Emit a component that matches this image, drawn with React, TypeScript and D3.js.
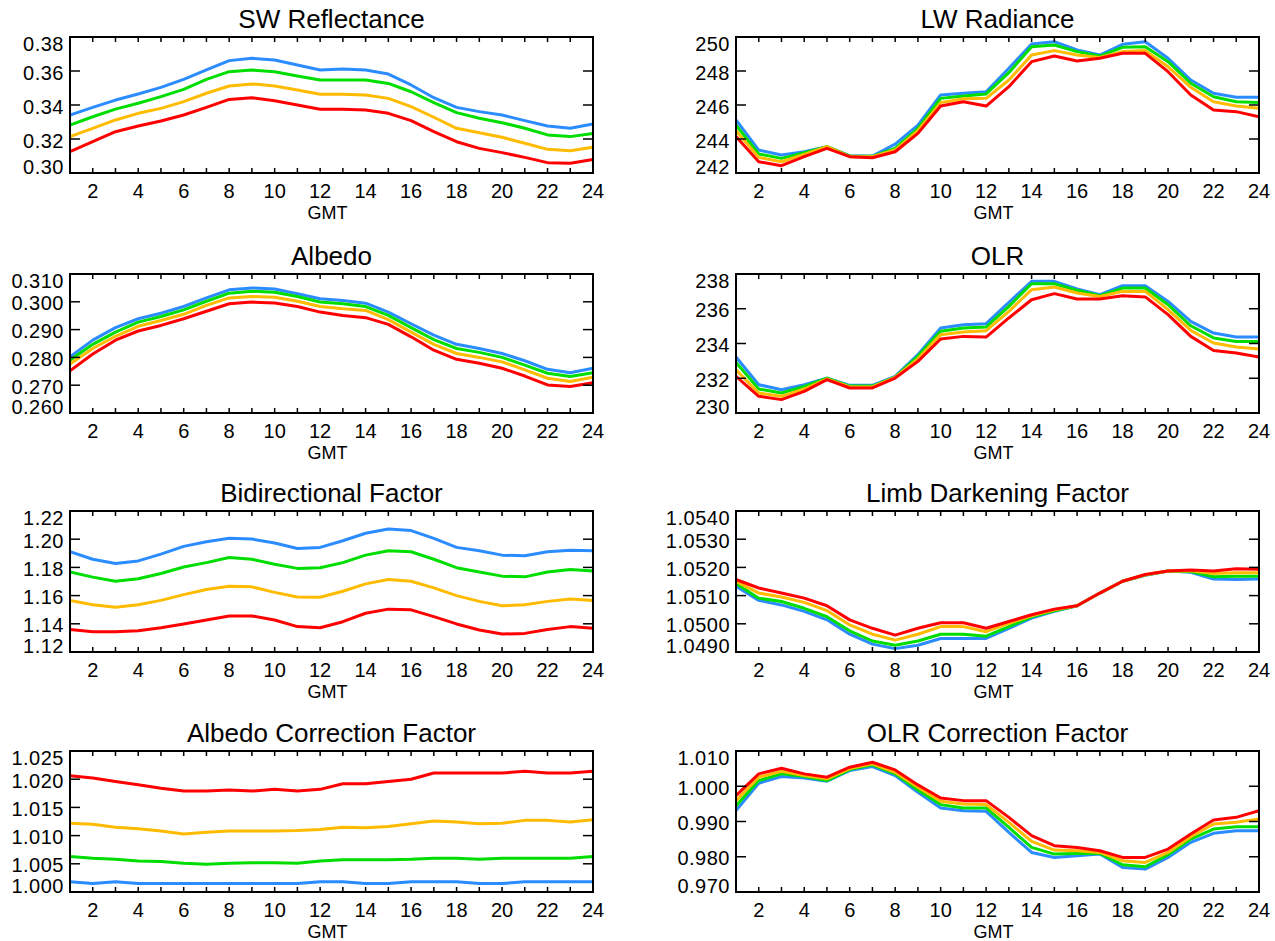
import React from 'react';
import * as d3 from 'd3';

// Hour of day (GMT)
const hours = [1, 2, 3, 4, 5, 6, 7, 8, 9, 10, 11, 12, 13, 14, 15, 16, 17, 18, 19, 20, 21, 22, 23, 24];
const xTickLabels = [2, 4, 6, 8, 10, 12, 14, 16, 18, 20, 22, 24];

// Series colours, in drawing order (red on top)
const seriesColors = ['#2b8cff', '#00dd00', '#ffbb00', '#ff0000'];

// SW Reflectance
const swBlue = [0.3341, 0.3386, 0.3429, 0.3465, 0.3504, 0.3551, 0.3606, 0.3661, 0.3675, 0.3665, 0.3635, 0.3606, 0.3612, 0.3606, 0.3582, 0.3518, 0.3443, 0.3386, 0.3361, 0.3341, 0.3308, 0.3276, 0.3263, 0.3288];
const swGreen = [0.3282, 0.3331, 0.3376, 0.341, 0.3449, 0.3492, 0.3551, 0.3596, 0.3606, 0.3596, 0.3571, 0.3547, 0.3547, 0.3547, 0.3527, 0.3478, 0.3414, 0.3355, 0.3322, 0.3296, 0.3263, 0.3224, 0.3214, 0.3233];
const swOrange = [0.3214, 0.3263, 0.3312, 0.3351, 0.338, 0.342, 0.3469, 0.3512, 0.3524, 0.3512, 0.3488, 0.3463, 0.3463, 0.3459, 0.3439, 0.339, 0.3328, 0.3263, 0.3237, 0.321, 0.3175, 0.3139, 0.3131, 0.3151];
const swRed = [0.3125, 0.3184, 0.3243, 0.3276, 0.3306, 0.3341, 0.3386, 0.3433, 0.3443, 0.3425, 0.34, 0.3375, 0.3375, 0.3371, 0.3351, 0.3308, 0.3243, 0.3184, 0.3145, 0.312, 0.3092, 0.3061, 0.3057, 0.308];
const swTicks = [0.3, 0.32, 0.34, 0.36, 0.38];

// LW Radiance
const lwBlue = [245.12, 243.35, 243.06, 243.25, 243.55, 243.0, 243.0, 243.7, 244.82, 246.59, 246.69, 246.78, 248.16, 249.59, 249.72, 249.24, 248.94, 249.57, 249.72, 248.75, 247.47, 246.69, 246.45, 246.45];
const lwGreen = [244.82, 243.12, 242.86, 243.19, 243.55, 243.0, 242.98, 243.45, 244.63, 246.39, 246.53, 246.65, 247.9, 249.43, 249.53, 249.14, 248.88, 249.39, 249.43, 248.55, 247.28, 246.49, 246.19, 246.14];
const lwOrange = [244.49, 242.92, 242.66, 243.1, 243.55, 242.96, 242.96, 243.35, 244.49, 246.14, 246.37, 246.39, 247.47, 248.94, 249.2, 248.94, 248.8, 249.14, 249.2, 248.25, 247.04, 246.19, 245.94, 245.81];
const lwRed = [244.14, 242.66, 242.43, 242.96, 243.45, 242.96, 242.9, 243.25, 244.33, 245.94, 246.19, 245.94, 247.08, 248.55, 248.88, 248.59, 248.75, 249.04, 249.04, 247.96, 246.59, 245.71, 245.61, 245.31];
const lwTicks = [242, 244, 246, 248, 250];

// Albedo
const alBlue = [0.2802, 0.2862, 0.2907, 0.2939, 0.2959, 0.2983, 0.3014, 0.3043, 0.305, 0.3046, 0.3029, 0.3011, 0.3005, 0.2995, 0.2963, 0.2921, 0.288, 0.2847, 0.2832, 0.2814, 0.2788, 0.2757, 0.2745, 0.2761];
const alGreen = [0.279, 0.2847, 0.2891, 0.2927, 0.2947, 0.2971, 0.3002, 0.3031, 0.3038, 0.3034, 0.3019, 0.2999, 0.2993, 0.2983, 0.2951, 0.2907, 0.2864, 0.2832, 0.2818, 0.28, 0.2772, 0.2743, 0.2731, 0.2745];
const alOrange = [0.2776, 0.2832, 0.2876, 0.2912, 0.2933, 0.2955, 0.2987, 0.3014, 0.3019, 0.3016, 0.3002, 0.2983, 0.2975, 0.2969, 0.2936, 0.2891, 0.2847, 0.2814, 0.28, 0.2784, 0.2755, 0.2725, 0.2713, 0.2729];
const alRed = [0.2752, 0.2812, 0.2862, 0.2895, 0.2915, 0.2939, 0.2966, 0.2993, 0.2999, 0.2996, 0.2983, 0.2963, 0.2951, 0.2943, 0.2919, 0.2874, 0.2826, 0.2793, 0.2779, 0.2761, 0.2733, 0.2701, 0.2695, 0.2709];
const alTicks = [0.26, 0.27, 0.28, 0.29, 0.3, 0.31];

// OLR
const olrBlue = [233.22, 231.63, 231.34, 231.63, 232.01, 231.59, 231.59, 232.11, 233.36, 234.89, 235.08, 235.14, 236.37, 237.58, 237.58, 237.14, 236.81, 237.33, 237.33, 236.42, 235.27, 234.6, 234.37, 234.37];
const olrGreen = [232.91, 231.38, 231.15, 231.53, 232.01, 231.55, 231.55, 232.07, 233.26, 234.7, 234.89, 234.95, 236.14, 237.44, 237.44, 237.06, 236.75, 237.19, 237.19, 236.23, 235.02, 234.32, 234.12, 234.12];
const olrOrange = [232.49, 231.15, 230.96, 231.38, 231.96, 231.5, 231.5, 232.05, 233.12, 234.51, 234.66, 234.74, 235.85, 237.1, 237.25, 236.91, 236.71, 237.0, 237.0, 235.95, 234.75, 234.03, 233.8, 233.68];
const olrRed = [232.11, 230.96, 230.77, 231.24, 231.92, 231.44, 231.44, 232.01, 232.97, 234.26, 234.41, 234.37, 235.47, 236.52, 236.87, 236.56, 236.56, 236.75, 236.68, 235.66, 234.41, 233.6, 233.45, 233.22];
const olrTicks = [230, 232, 234, 236, 238];

// Bidirectional Factor
const bdBlue = [1.1911, 1.1858, 1.1827, 1.1846, 1.1894, 1.1949, 1.1982, 1.2006, 1.2001, 1.1973, 1.1934, 1.1942, 1.1989, 1.2042, 1.2073, 1.2061, 1.2006, 1.1942, 1.1918, 1.1887, 1.1882, 1.1911, 1.1922, 1.1918];
const bdGreen = [1.1767, 1.1731, 1.1702, 1.1719, 1.1757, 1.1803, 1.1834, 1.187, 1.1858, 1.1822, 1.1793, 1.1798, 1.1834, 1.1887, 1.1918, 1.1911, 1.1858, 1.1798, 1.1767, 1.1738, 1.1733, 1.1767, 1.1785, 1.1774];
const bdOrange = [1.1566, 1.1535, 1.1518, 1.1535, 1.1566, 1.1607, 1.1643, 1.1667, 1.1662, 1.1623, 1.159, 1.1588, 1.1631, 1.1683, 1.1714, 1.1702, 1.1655, 1.16, 1.1559, 1.1528, 1.1535, 1.1559, 1.1576, 1.1566];
const bdRed = [1.136, 1.1344, 1.1344, 1.1351, 1.1372, 1.1399, 1.1427, 1.1456, 1.1456, 1.1427, 1.138, 1.1372, 1.1415, 1.1475, 1.1504, 1.1499, 1.1451, 1.1399, 1.1356, 1.1327, 1.1332, 1.136, 1.138, 1.1368];
const bdTicks = [1.12, 1.14, 1.16, 1.18, 1.2, 1.22];

// Limb Darkening Factor
const ldBlue = [1.05133, 1.05083, 1.05067, 1.05044, 1.05014, 1.04963, 1.04928, 1.04912, 1.04924, 1.04948, 1.04948, 1.04948, 1.04984, 1.0502, 1.05044, 1.05064, 1.05109, 1.05151, 1.05172, 1.05187, 1.05183, 1.05159, 1.05157, 1.05159];
const ldGreen = [1.05143, 1.05091, 1.05079, 1.05055, 1.05025, 1.04975, 1.04939, 1.04924, 1.04939, 1.04963, 1.04963, 1.04956, 1.0499, 1.05025, 1.05046, 1.05064, 1.05109, 1.05151, 1.05173, 1.05187, 1.05185, 1.05167, 1.05169, 1.05169];
const ldOrange = [1.05151, 1.05109, 1.05095, 1.05076, 1.05047, 1.04996, 1.04963, 1.04942, 1.04963, 1.0499, 1.0499, 1.04972, 1.05002, 1.05028, 1.0505, 1.05064, 1.05109, 1.05151, 1.05174, 1.05187, 1.05188, 1.05178, 1.05181, 1.05181];
const ldRed = [1.05157, 1.05127, 1.05109, 1.05091, 1.05064, 1.05014, 1.04984, 1.0496, 1.04984, 1.05004, 1.05004, 1.04984, 1.05008, 1.05032, 1.05052, 1.05064, 1.05109, 1.05151, 1.05175, 1.05187, 1.05191, 1.05187, 1.05195, 1.05193];
const ldTicks = [1.049, 1.05, 1.051, 1.052, 1.053, 1.054];

// Albedo Correction Factor
const acBlue = [1.0018, 1.0015, 1.0018, 1.0015, 1.0015, 1.0015, 1.0015, 1.0015, 1.0015, 1.0015, 1.0015, 1.0018, 1.0018, 1.0015, 1.0015, 1.0018, 1.0018, 1.0018, 1.0015, 1.0015, 1.0018, 1.0018, 1.0018, 1.0018];
const acGreen = [1.0063, 1.006, 1.0058, 1.0055, 1.0054, 1.0051, 1.0049, 1.0051, 1.0052, 1.0052, 1.0051, 1.0055, 1.0057, 1.0057, 1.0057, 1.0058, 1.006, 1.006, 1.0058, 1.006, 1.006, 1.006, 1.006, 1.0063];
const acOrange = [1.0122, 1.012, 1.0115, 1.0112, 1.0108, 1.0103, 1.0106, 1.0108, 1.0108, 1.0108, 1.0109, 1.0111, 1.0115, 1.0114, 1.0116, 1.0121, 1.0126, 1.0124, 1.0121, 1.0122, 1.0127, 1.0127, 1.0124, 1.0128];
const acRed = [1.0206, 1.0202, 1.0196, 1.019, 1.0184, 1.0179, 1.0179, 1.0181, 1.0179, 1.0182, 1.0179, 1.0182, 1.0192, 1.0192, 1.0196, 1.02, 1.0211, 1.0211, 1.0211, 1.0211, 1.0214, 1.0211, 1.0211, 1.0214];
const acTicks = [1.0, 1.005, 1.01, 1.015, 1.02, 1.025];

// OLR Correction Factor
const ocBlue = [0.99308, 1.00085, 1.00275, 1.00237, 1.00142, 1.00445, 1.00559, 1.00303, 0.99829, 0.99384, 0.99308, 0.99289, 0.98692, 0.98123, 0.97981, 0.98028, 0.98076, 0.97697, 0.97649, 0.97981, 0.98408, 0.98664, 0.98739, 0.98739];
const ocGreen = [0.9945, 1.00161, 1.00351, 1.00275, 1.00161, 1.00474, 1.00607, 1.00351, 0.99896, 0.99479, 0.99384, 0.99384, 0.98834, 0.98265, 0.98076, 0.98095, 0.98095, 0.97773, 0.97716, 0.98057, 0.98502, 0.98787, 0.98853, 0.98853];
const ocOrange = [0.99592, 1.00256, 1.00427, 1.00303, 1.00209, 1.00502, 1.00635, 1.00398, 0.99972, 0.99573, 0.99498, 0.99479, 0.98976, 0.98436, 0.9819, 0.98171, 0.98123, 0.97886, 0.97839, 0.98123, 0.98569, 0.98929, 0.98976, 0.99071];
const ocRed = [0.99735, 1.00351, 1.00512, 1.00351, 1.00256, 1.0054, 1.00682, 1.00464, 1.00038, 0.99668, 0.99592, 0.99592, 0.99118, 0.98597, 0.98313, 0.98265, 0.98171, 0.97981, 0.97981, 0.98218, 0.98645, 0.99043, 0.99118, 0.99308];
const ocTicks = [0.97, 0.98, 0.99, 1.0, 1.01];

type Panel = {
  title: string;
  ticks: number[];
  digits: number;
  series: number[][];
  col: number;
  row: number;
};

const panels: Panel[] = [
  { title: 'SW Reflectance', ticks: swTicks, digits: 2, series: [swBlue, swGreen, swOrange, swRed], col: 0, row: 0 },
  { title: 'LW Radiance', ticks: lwTicks, digits: 0, series: [lwBlue, lwGreen, lwOrange, lwRed], col: 1, row: 0 },
  { title: 'Albedo', ticks: alTicks, digits: 3, series: [alBlue, alGreen, alOrange, alRed], col: 0, row: 1 },
  { title: 'OLR', ticks: olrTicks, digits: 0, series: [olrBlue, olrGreen, olrOrange, olrRed], col: 1, row: 1 },
  { title: 'Bidirectional Factor', ticks: bdTicks, digits: 2, series: [bdBlue, bdGreen, bdOrange, bdRed], col: 0, row: 2 },
  { title: 'Limb Darkening Factor', ticks: ldTicks, digits: 4, series: [ldBlue, ldGreen, ldOrange, ldRed], col: 1, row: 2 },
  { title: 'Albedo Correction Factor', ticks: acTicks, digits: 3, series: [acBlue, acGreen, acOrange, acRed], col: 0, row: 3 },
  { title: 'OLR Correction Factor', ticks: ocTicks, digits: 3, series: [ocBlue, ocGreen, ocOrange, ocRed], col: 1, row: 3 },
];

// Plot-box geometry
const colLeft = [70, 736];
const boxWidth = 523;
const rowTop = [37, 274, 511, 751];
const rowBottom = [173, 413, 652, 892];

const FONT = "'Liberation Sans', Arial, Helvetica, sans-serif";

function PanelView({ p }: { p: Panel }) {
  const x0 = colLeft[p.col];
  const x1 = x0 + boxWidth;
  const y0 = rowTop[p.row];
  const y1 = rowBottom[p.row];
  const x = d3.scaleLinear().domain([1, 24]).range([x0, x1]);
  const y = d3.scaleLinear().domain([p.ticks[0], p.ticks[p.ticks.length - 1]]).range([y1, y0]);
  const line = d3
    .line<number>()
    .x((_, i) => x(hours[i]))
    .y((v) => y(v));
  const fmt = d3.format(`.${p.digits}f`);
  const innerHours = hours.slice(1, -1);
  const innerTicks = p.ticks.slice(1, -1);
  const cx = (x0 + x1) / 2;

  return (
    <g>
      <defs>
        <clipPath id={`clip-${p.col}-${p.row}`}>
          <rect x={x0} y={y0 - 1} width={x1 - x0} height={y1 - y0 + 2} />
        </clipPath>
      </defs>
      <text x={cx} y={y0 - 9} textAnchor="middle" fontSize={26} fontFamily={FONT} fill="#000">
        {p.title}
      </text>
      <g clipPath={`url(#clip-${p.col}-${p.row})`}>
        {p.series.map((s, i) => (
          <path
            key={i}
            d={line(s) || ''}
            fill="none"
            stroke={seriesColors[i]}
            strokeWidth={3}
            strokeLinejoin="round"
          />
        ))}
      </g>
      {/* x ticks, top and bottom, every hour */}
      {innerHours.map((h) => (
        <g key={`xt${h}`}>
          <line x1={x(h)} x2={x(h)} y1={y1} y2={y1 - 5} stroke="#000" strokeWidth={1.5} />
          <line x1={x(h)} x2={x(h)} y1={y0} y2={y0 + 5} stroke="#000" strokeWidth={1.5} />
        </g>
      ))}
      {/* y ticks, left and right */}
      {innerTicks.map((t) => (
        <g key={`yt${t}`}>
          <line x1={x0} x2={x0 + 10} y1={y(t)} y2={y(t)} stroke="#000" strokeWidth={1.5} />
          <line x1={x1} x2={x1 - 10} y1={y(t)} y2={y(t)} stroke="#000" strokeWidth={1.5} />
        </g>
      ))}
      <rect x={x0} y={y0} width={x1 - x0} height={y1 - y0} fill="none" stroke="#000" strokeWidth={2} />
      {/* y tick labels */}
      {p.ticks.map((t, i) => {
        const shift = i === 0 ? -6 : i === p.ticks.length - 1 ? 7 : 1.5;
        return (
          <text
            key={`yl${t}`}
            x={x0 - 6}
            y={y(t) + shift + 7}
            textAnchor="end"
            fontSize={20}
            letterSpacing={0.5}
            fontFamily={FONT}
            fill="#000"
          >
            {fmt(t)}
          </text>
        );
      })}
      {/* x tick labels */}
      {xTickLabels.map((h) => (
        <text key={`xl${h}`} x={x(h)} y={y1 + 25} textAnchor="middle" fontSize={20} fontFamily={FONT} fill="#000">
          {h}
        </text>
      ))}
      <text x={cx - 4} y={y1 + 46} textAnchor="middle" fontSize={18} fontFamily={FONT} fill="#000">
        GMT
      </text>
    </g>
  );
}

export default function App() {
  return (
    <svg
      width={1275}
      height={941}
      viewBox="0 0 1275 941"
      style={{ position: 'absolute', left: 0, top: 0, background: '#fff' }}
    >
      <rect x={0} y={0} width={1275} height={941} fill="#fff" />
      {panels.map((p) => (
        <PanelView key={p.title} p={p} />
      ))}
    </svg>
  );
}
